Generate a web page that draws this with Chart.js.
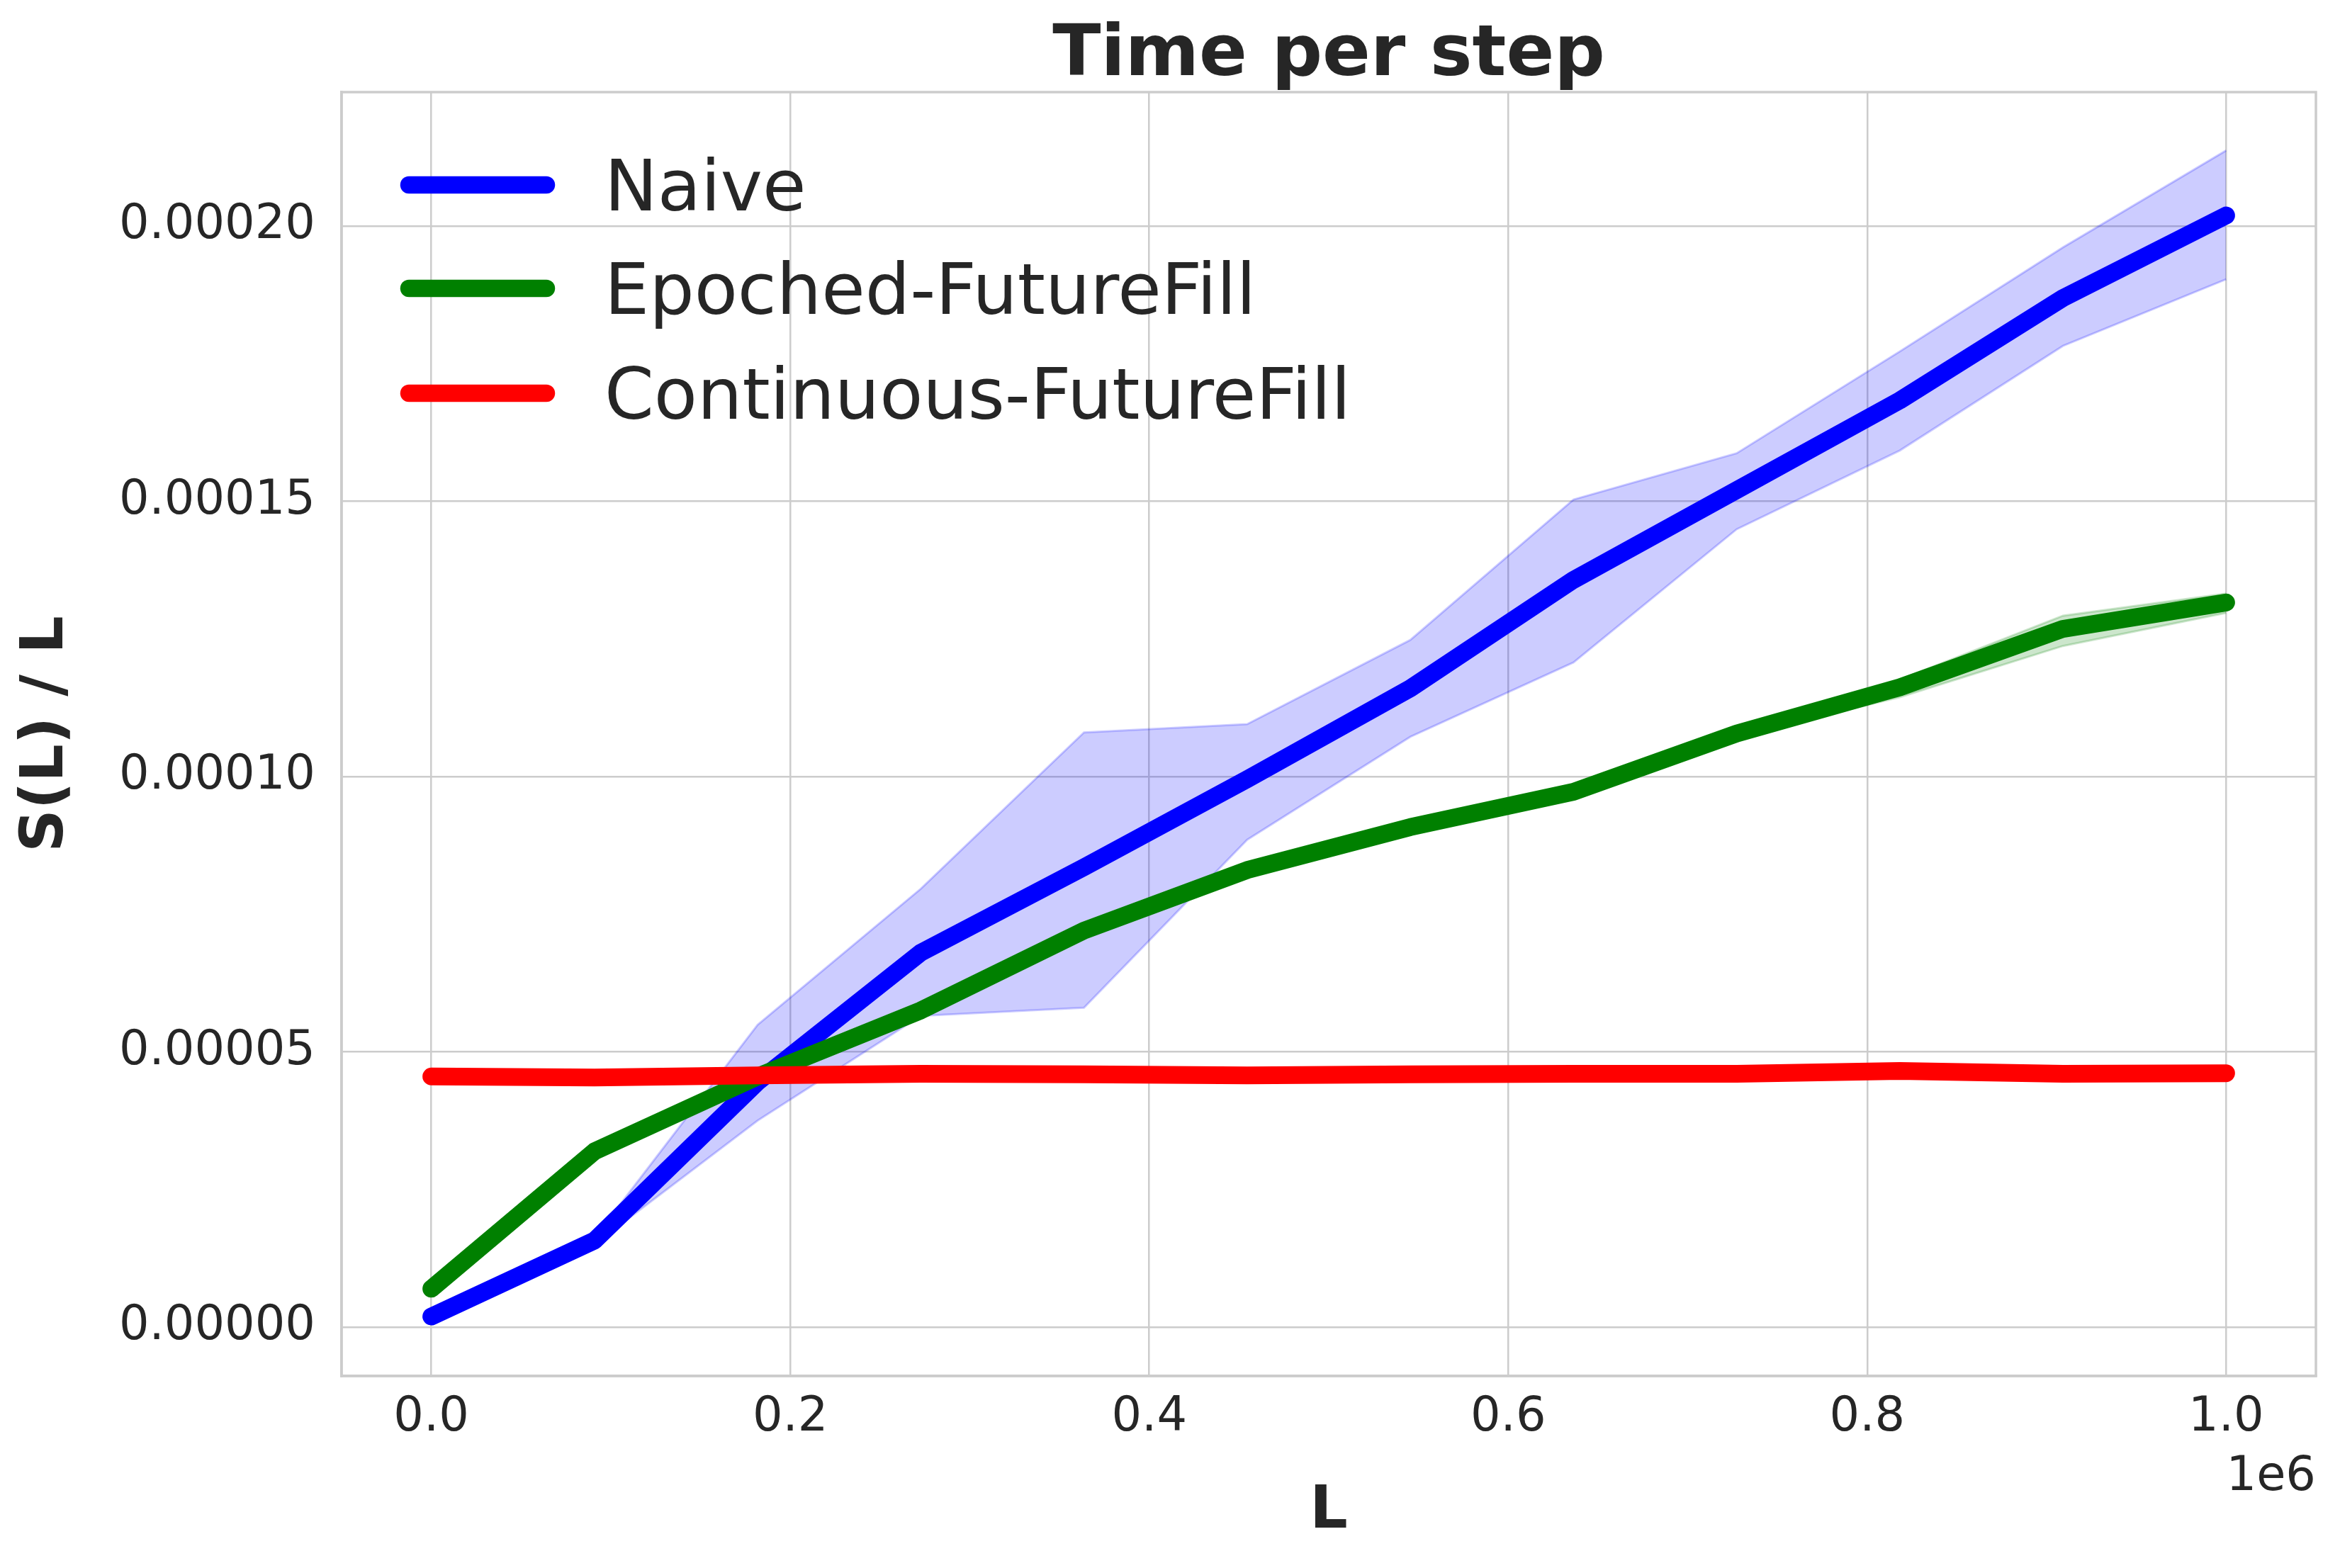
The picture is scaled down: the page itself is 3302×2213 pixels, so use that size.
<!DOCTYPE html>
<html>
<head>
<meta charset="utf-8">
<title>Time per step</title>
<script src="https://cdn.jsdelivr.net/npm/chart.js@4.4.1/dist/chart.umd.min.js"></script>
<style>
  body { margin: 0; background: #fff; }
  canvas { display: block; }
</style>
</head>
<body>
<canvas id="myChart" width="3302" height="2213"></canvas>
<script>
// L values (x) and S(L)/L for each method
const lengths = [0, 90909, 181818, 272727, 363636, 454545, 545455, 636364, 727273, 818182, 909091, 1000000];

const naive = [1.9e-6, 1.57e-5, 4.45e-5, 6.8e-5, 8.35e-5, 9.95e-5, 1.16e-4, 1.357e-4, 1.52e-4, 1.683e-4, 1.869e-4, 2.019e-4];
const naiveHigh = [2.4e-6, 1.62e-5, 5.49e-5, 7.96e-5, 1.08e-4, 1.095e-4, 1.248e-4, 1.503e-4, 1.587e-4, 1.772e-4, 1.961e-4, 2.137e-4];
const naiveLow = [1.6e-6, 1.5e-5, 3.75e-5, 5.65e-5, 5.8e-5, 8.85e-5, 1.072e-4, 1.207e-4, 1.449e-4, 1.592e-4, 1.782e-4, 1.903e-4];

const epoched = [6.95e-6, 3.19e-5, 4.55e-5, 5.75e-5, 7.2e-5, 8.3e-5, 9.08e-5, 9.72e-5, 1.078e-4, 1.162e-4, 1.268e-4, 1.316e-4];
const epochedHigh = [7.2e-6, 3.21e-5, 4.58e-5, 5.78e-5, 7.23e-5, 8.33e-5, 9.11e-5, 9.76e-5, 1.083e-4, 1.176e-4, 1.292e-4, 1.332e-4];
const epochedLow = [6.7e-6, 3.17e-5, 4.52e-5, 5.72e-5, 7.17e-5, 8.27e-5, 9.05e-5, 9.68e-5, 1.073e-4, 1.144e-4, 1.237e-4, 1.297e-4];

const continuous = [4.55e-5, 4.53e-5, 4.57e-5, 4.6e-5, 4.59e-5, 4.57e-5, 4.59e-5, 4.6e-5, 4.6e-5, 4.65e-5, 4.6e-5, 4.61e-5];

const xTicks = [0, 200000, 400000, 600000, 800000, 1000000];
const yTicks = [0, 0.00005, 0.0001, 0.00015, 0.0002];

const seriesNames = ["Naive", "Epoched-FutureFill", "Continuous-FutureFill"];
const seriesColors = ["#0000ff", "#008000", "#ff0000"];

const textColor = "#262626";
const gridColor = "#cccccc";

const toPoints = (vals) => vals.map((v, i) => ({ x: lengths[i], y: v }));

const lineSet = (label, vals, color, order) => ({
  label: label,
  data: toPoints(vals),
  borderColor: color,
  backgroundColor: color,
  borderWidth: 25,
  borderCapStyle: "round",
  borderJoinStyle: "round",
  pointRadius: 0,
  tension: 0,
  fill: false,
  order: order,
});

const bandSet = (vals, color, fill) => ({
  label: "",
  data: toPoints(vals),
  borderColor: color,
  backgroundColor: color,
  borderWidth: 3,
  pointRadius: 0,
  tension: 0,
  fill: fill,
  order: 5,
});

// legend, frame, title and the 1e6 offset text
const extras = {
  id: "extras",
  afterDraw(chart) {
    const { ctx, chartArea } = chart;
    const { left, right, top, bottom } = chartArea;
    ctx.save();
    ctx.strokeStyle = gridColor;
    ctx.lineWidth = 3.5;
    ctx.strokeRect(left, top, right - left, bottom - top);

    ctx.fillStyle = textColor;
    ctx.textAlign = "center";
    ctx.textBaseline = "alphabetic";
    ctx.font = "bold 100px 'DejaVu Sans'";
    ctx.fillText("Time per step", (left + right) / 2, 106);

    ctx.textAlign = "right";
    ctx.font = "67px 'DejaVu Sans'";
    ctx.fillText("1e6", right, 2103);

    const rows = [131, 277, 425];
    ctx.font = "100px 'DejaVu Sans'";
    ctx.textAlign = "left";
    seriesNames.forEach((name, i) => {
      const y = top + rows[i];
      ctx.strokeStyle = seriesColors[i];
      ctx.lineWidth = 24.5;
      ctx.lineCap = "round";
      ctx.beginPath();
      ctx.moveTo(left + 95, y);
      ctx.lineTo(left + 289, y);
      ctx.stroke();
      ctx.fillStyle = textColor;
      ctx.fillText(name, left + 371, y + 36);
    });
    ctx.restore();
  },
};

new Chart("myChart", {
  type: "line",
  data: {
    datasets: [
      lineSet(seriesNames[0], naive, seriesColors[0], 2),
      lineSet(seriesNames[1], epoched, seriesColors[1], 1),
      lineSet(seriesNames[2], continuous, seriesColors[2], 0),
      bandSet(naiveHigh, "rgba(0,0,255,0.2)", "+1"),
      bandSet(naiveLow, "rgba(0,0,255,0.2)", false),
      bandSet(epochedHigh, "rgba(0,128,0,0.2)", "+1"),
      bandSet(epochedLow, "rgba(0,128,0,0.2)", false),
    ],
  },
  options: {
    responsive: false,
    animation: false,
    devicePixelRatio: 1,
    layout: { padding: { top: 130, right: 34, left: 0, bottom: 0 } },
    plugins: {
      legend: { display: false },
      title: { display: false },
      tooltip: { enabled: false },
    },
    scales: {
      x: {
        type: "linear",
        min: -50000,
        max: 1050000,
        afterBuildTicks: (axis) => {
          axis.ticks = xTicks.map((v) => ({ value: v }));
        },
        afterFit: (scale) => {
          scale.height = 271;
        },
        ticks: {
          callback: (v) => (v / 1e6).toFixed(1),
          color: textColor,
          font: { family: "'DejaVu Sans'", size: 67 },
          padding: 19,
          maxRotation: 0,
          autoSkip: false,
        },
        grid: { color: gridColor, lineWidth: 2.5, drawTicks: false },
        border: { color: gridColor, width: 3.5 },
        title: {
          display: true,
          text: "L",
          color: textColor,
          font: { family: "'DejaVu Sans'", size: 84, weight: "bold" },
          padding: { top: 0, bottom: 28 },
        },
      },
      y: {
        type: "linear",
        min: -8.9e-6,
        max: 2.243e-4,
        afterBuildTicks: (axis) => {
          axis.ticks = yTicks.map((v) => ({ value: v }));
        },
        afterFit: (scale) => {
          scale.width = 482;
        },
        ticks: {
          callback: (v) => v.toFixed(5),
          color: textColor,
          font: { family: "'DejaVu Sans'", size: 67 },
          padding: 37,
          autoSkip: false,
        },
        grid: { color: gridColor, lineWidth: 2.5, drawTicks: false },
        border: { color: gridColor, width: 3.5 },
        title: {
          display: true,
          text: "S(L) / L",
          color: textColor,
          font: { family: "'DejaVu Sans'", size: 84, weight: "bold" },
          padding: { top: 16, bottom: 0 },
        },
      },
    },
  },
  plugins: [extras],
});
</script>
</body>
</html>
